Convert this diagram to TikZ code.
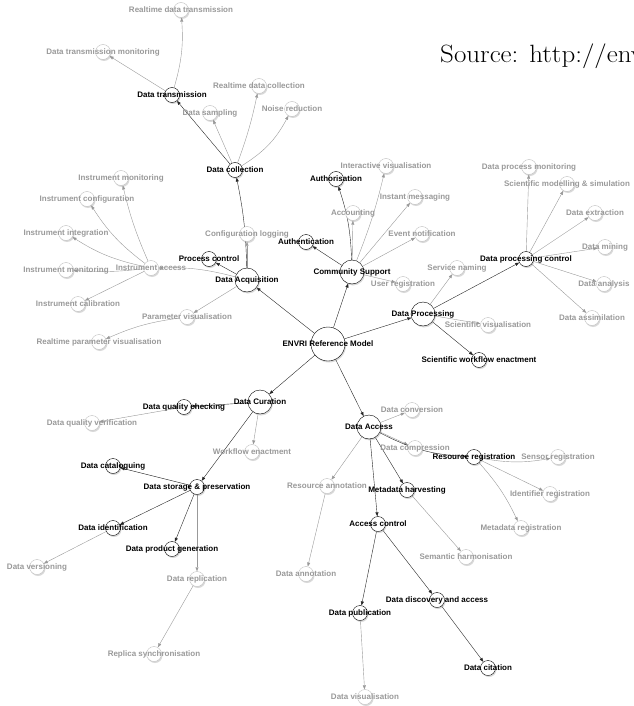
\documentclass[tikz,border=0pt]{standalone}
\usepackage{fontspec}
\usepackage{tikz}
\newfontfamily\labelfont{Liberation Sans}
\usetikzlibrary{shadows, arrows.meta, backgrounds}

\begin{document}
\begin{tikzpicture}[x=1pt, y=-1pt,
	hub/.style={circle, draw=black, fill=white, inner sep=0pt, minimum size=34pt,
		drop shadow={shadow xshift=1pt, shadow yshift=-1.5pt, opacity=0.3}},
	area/.style={hub, minimum size=24pt},
	topic/.style={hub, minimum size=15pt},
	minor/.style={topic, draw=black!25},
	blbl/.style={font=\labelfont\bfseries\fontsize{8}{9}\selectfont, text=black, inner sep=0pt},
	glbl/.style={blbl, text=gray!80},
	link/.style={draw=black!85, -{Triangle[length=4pt, width=3pt]}},
	glink/.style={draw=gray!80, -{Triangle[length=4pt, width=3pt]}}]
	\useasboundingbox (0,0) rectangle (633,706);
	
	% Source line at the top
	\node[anchor=base west, inner sep=0pt, font=\fontsize{25}{28}\selectfont] (src) at (440,63) {\scalebox{1.08}[1]{Source: http://env}};
	
	% Centre and the five areas
	\node[hub, label={[blbl]center:ENVRI Reference Model}] (envri) at (328,344) {};
	\node[area, label={[blbl]center:Data Acquisition}] (acq) at (247,280) {};
	\node[area, label={[blbl]center:Community Support}] (comm) at (352,272) {};
	\node[area, label={[blbl]center:Data Processing}] (proc) at (423,314) {};
	\node[area, label={[blbl]center:Data Curation}] (cur) at (260,402) {};
	\node[area, label={[blbl]center:Data Access}] (acc) at (369,427) {};
	
	% Data acquisition
	\node[topic, label={[blbl]center:Data collection}] (coll) at (235,170) {};
	\node[topic, label={[blbl]center:Data transmission}] (trans) at (172,95) {};
	\node[minor, label={[glbl]center:Realtime data transmission}] (rtdt) at (181,10) {};
	\node[minor, label={[glbl]center:Data transmission monitoring}] (transmon) at (103,52) {};
	\node[minor, label={[glbl]center:Data sampling}] (samp) at (210,113) {};
	\node[minor, label={[glbl]center:Realtime data collection}] (rtdc) at (259,86) {};
	\node[minor, label={[glbl]center:Noise reduction}] (noise) at (292,109) {};
	\node[topic, label={[blbl]center:Process control}] (pctl) at (209,259) {};
	\node[minor, label={[glbl]center:Configuration logging}] (conflog) at (247,234) {};
	\node[minor, label={[glbl]center:Instrument access}] (inst) at (151,268) {};
	\node[minor, label={[glbl]center:Instrument monitoring}] (imon) at (121,178) {};
	\node[minor, label={[glbl]center:Instrument configuration}] (iconf) at (87,199) {};
	\node[minor, label={[glbl]center:Instrument integration}] (iint) at (66,233) {};
	\node[minor, label={[glbl]center:Instrument monitoring}] (imontwo) at (66,270) {};
	\node[minor, label={[glbl]center:Instrument calibration}] (ical) at (78,304) {};
	\node[minor, label={[glbl]center:Parameter visualisation}] (parvis) at (187,317) {};
	\node[minor, label={[glbl]center:Realtime parameter visualisation}] (rtpar) at (99,342) {};
	
	% Community support
	\node[topic, label={[blbl]center:Authorisation}] (authz) at (336,179) {};
	\node[topic, label={[blbl]center:Authentication}] (authn) at (306,242) {};
	\node[minor, label={[glbl]center:Interactive visualisation}] (ivis) at (386,166) {};
	\node[minor, label={[glbl]center:Accounting}] (acct) at (353,213) {};
	\node[minor, label={[glbl]center:Instant messaging}] (imsg) at (415,197) {};
	\node[minor, label={[glbl]center:Event notification}] (evnot) at (422,234) {};
	\node[minor, label={[glbl]center:User registration}] (ureg) at (403,284) {};
	
	% Data processing
	\node[minor, label={[glbl]center:Service naming}] (svcname) at (457,268) {};
	\node[minor, label={[glbl]center:Scientific visualisation}] (scivis) at (488,325) {};
	\node[topic, label={[blbl]center:Scientific workflow enactment}] (sciwf) at (479,360) {};
	\node[topic, label={[blbl]center:Data processing control}] (dpctl) at (526,259) {};
	\node[minor, label={[glbl]center:Data process monitoring}] (dpmon) at (529,167) {};
	\node[minor, label={[glbl]center:Scientific modelling \& simulation}] (scimod) at (567,184) {};
	\node[minor, label={[glbl]center:Data extraction}] (dextr) at (595,213) {};
	\node[minor, label={[glbl]center:Data mining}] (dmin) at (605,247) {};
	\node[minor, label={[glbl]center:Data analysis}] (danal) at (604,284) {};
	\node[minor, label={[glbl]center:Data assimilation}] (dassim) at (592,318) {};
	
	% Data curation
	\node[topic, label={[blbl]center:Data quality checking}] (dqc) at (184,407) {};
	\node[minor, label={[glbl]center:Data quality verification}] (dqv) at (92,423) {};
	\node[minor, label={[glbl]center:Workflow enactment}] (wfe) at (252,452) {};
	\node[topic, label={[blbl]center:Data cataloguing}] (dcat) at (113,466) {};
	\node[topic, label={[blbl]center:Data storage \& preservation}] (dstor) at (197,487) {};
	\node[topic, label={[blbl]center:Data identification}] (did) at (113,528) {};
	\node[topic, label={[blbl]center:Data product generation}] (dprod) at (172,549) {};
	\node[minor, label={[glbl]center:Data versioning}] (dver) at (37,567) {};
	\node[minor, label={[glbl]center:Data replication}] (drepl) at (197,579) {};
	\node[minor, label={[glbl]center:Replica synchronisation}] (rsync) at (154,654) {};
	
	% Data access
	\node[minor, label={[glbl]center:Data conversion}] (dconv) at (412,410) {};
	\node[minor, label={[glbl]center:Data compression}] (dcomp) at (415,448) {};
	\node[topic, label={[blbl]center:Resource registration}] (rreg) at (474,457) {};
	\node[minor, label={[glbl]center:Sensor registration}] (sreg) at (558,457) {};
	\node[minor, label={[glbl]center:Identifier registration}] (idreg) at (550,494) {};
	\node[minor, label={[glbl]center:Metadata registration}] (mreg) at (521,528) {};
	\node[minor, label={[glbl]center:Resource annotation}] (rann) at (327,486) {};
	\node[topic, label={[blbl]center:Metadata harvesting}] (mharv) at (407,490) {};
	\node[topic, label={[blbl]center:Access control}] (actl) at (378,524) {};
	\node[minor, label={[glbl]center:Semantic harmonisation}] (sharm) at (466,557) {};
	\node[minor, label={[glbl]center:Data annotation}] (dann) at (306,574) {};
	\node[topic, label={[blbl]center:Data discovery and access}] (ddisc) at (437,600) {};
	\node[topic, label={[blbl]center:Data publication}] (dpub) at (360,613) {};
	\node[topic, label={[blbl]center:Data citation}] (dcit) at (488,668) {};
	\node[minor, label={[glbl]center:Data visualisation}] (dvis) at (365,697) {};
	
	% Connectors go under the circles
	\begin{pgfonlayer}{background}
		\draw[link] (envri) -- (acq);
		\draw[link] (envri) -- (comm);
		\draw[link] (envri) -- (proc);
		\draw[link] (envri) -- (cur);
		\draw[link] (envri) -- (acc);
		
		\draw[link] (acq) to[bend right=5] (coll);
		\draw[link] (acq) -- (pctl);
		\draw[glink] (acq) -- (conflog);
		\draw[glink] (acq) to[bend right=8] (inst);
		\draw[glink] (acq) -- (parvis);
		\draw[link] (coll) -- (trans);
		\draw[glink] (coll) -- (samp);
		\draw[glink] (coll) to[bend right=4] (rtdc);
		\draw[glink] (coll) to[bend right=15] (noise);
		\draw[glink] (trans) to[bend right=10] (rtdt);
		\draw[glink] (trans) -- (transmon);
		\draw[glink] (inst) to[bend left=5] (imon);
		\draw[glink] (inst) to[bend left=10] (iconf);
		\draw[glink] (inst) to[bend left=10] (iint);
		\draw[glink] (inst) to[bend left=5] (imontwo);
		\draw[glink] (inst) -- (ical);
		\draw[glink] (parvis) to[bend right=8] (rtpar);
		
		\draw[link] (comm) to[bend right=8] (authz);
		\draw[link] (comm) -- (authn);
		\draw[glink] (comm) to[bend right=4] (ivis);
		\draw[glink] (comm) -- (acct);
		\draw[glink] (comm) -- (imsg);
		\draw[glink] (comm) -- (evnot);
		\draw[glink] (comm) -- (ureg);
		
		\draw[link] (proc) -- (dpctl);
		\draw[link] (proc) -- (sciwf);
		\draw[glink] (proc) -- (svcname);
		\draw[glink] (proc) -- (scivis);
		\draw[glink] (dpctl) -- (dpmon);
		\draw[glink] (dpctl) -- (scimod);
		\draw[glink] (dpctl) -- (dextr);
		\draw[glink] (dpctl) -- (dmin);
		\draw[glink] (dpctl) -- (danal);
		\draw[glink] (dpctl) -- (dassim);
		
		\draw[link] (cur) -- (dqc);
		\draw[link] (cur) -- (dstor);
		\draw[glink] (cur) -- (wfe);
		\draw[glink] (dqc) -- (dqv);
		\draw[link] (dstor) -- (dcat);
		\draw[link] (dstor) -- (did);
		\draw[link] (dstor) -- (dprod);
		\draw[glink] (dstor) -- (drepl);
		\draw[glink] (did) -- (dver);
		\draw[glink] (drepl) -- (rsync);
		
		\draw[glink] (acc) -- (dconv);
		\draw[glink] (acc) -- (dcomp);
		\draw[link] (acc) to[bend right=12] (rreg);
		\draw[link] (acc) -- (mharv);
		\draw[link] (acc) -- (actl);
		\draw[glink] (acc) -- (rann);
		\draw[glink] (rreg) to[bend right=10] (sreg);
		\draw[glink] (rreg) -- (idreg);
		\draw[glink] (rreg) to[bend left=8] (mreg);
		\draw[glink] (mharv) -- (sharm);
		\draw[glink] (rann) -- (dann);
		\draw[link] (actl) -- (dpub);
		\draw[link] (actl) -- (ddisc);
		\draw[link] (ddisc) -- (dcit);
		\draw[glink] (dpub) -- (dvis);
	\end{pgfonlayer}
\end{tikzpicture}
\end{document}
